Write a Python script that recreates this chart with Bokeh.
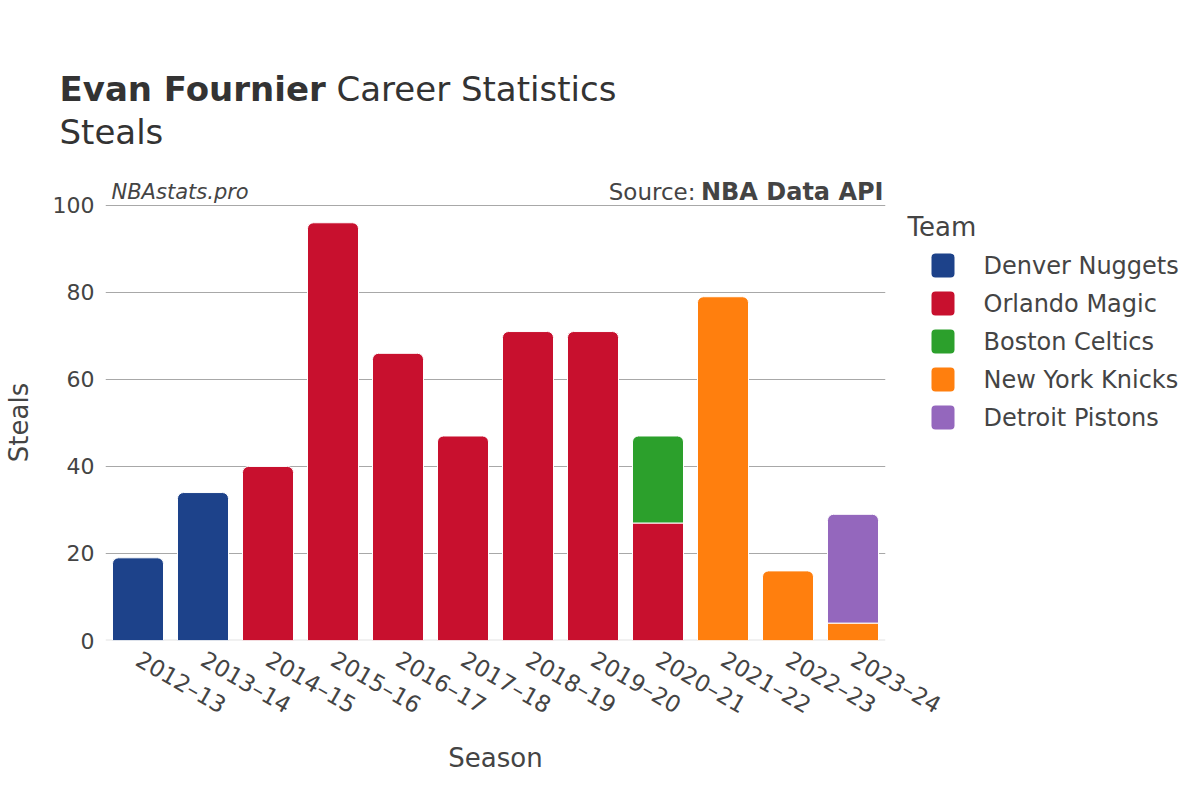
from bokeh.plotting import figure
from bokeh.layouts import row, column
from bokeh.models import FactorRange, Range1d, FixedTicker, Span, ColumnDataSource
from bokeh.core.properties import value
from bokeh.embed import file_html
from bokeh.resources import INLINE
import math

seasons = ["2012–13", "2013–14", "2014–15", "2015–16", "2016–17", "2017–18",
           "2018–19", "2019–20", "2020–21", "2021–22", "2022–23", "2023–24"]
teams = ["Denver Nuggets", "Orlando Magic", "Boston Celtics", "New York Knicks", "Detroit Pistons"]
colors = ["#1D428A", "#C8102E", "#2CA02C", "#FF7F0E", "#9467BD"]

denver_nuggets = [19, 34, 0, 0, 0, 0, 0, 0, 0, 0, 0, 0]
orlando_magic = [0, 0, 40, 96, 66, 47, 71, 71, 27, 0, 0, 0]
boston_celtics = [0, 0, 0, 0, 0, 0, 0, 0, 20, 0, 0, 0]
new_york_knicks = [0, 0, 0, 0, 0, 0, 0, 0, 0, 79, 16, 4]
detroit_pistons = [0, 0, 0, 0, 0, 0, 0, 0, 0, 0, 0, 25]
series = [denver_nuggets, orlando_magic, boston_celtics, new_york_knicks, detroit_pistons]

y_ticks = [0, 20, 40, 60, 80, 100]

FONT = "DejaVu Sans"
TXT = "#444444"
TITLE = "#333333"

TOTAL_W, TOTAL_H = 1184, 784
TOP_H = 204
TOP_PAD = 16          # main chart's top border, overlapping the title strip
FRAME_W, FRAME_H = 780, 436
LEFT_B, RIGHT_B = 100, 80
MAIN_W = LEFT_B + FRAME_W + RIGHT_B
BOTTOM_B = TOTAL_H - TOP_H - FRAME_H
LW = 284
OVERLAP = MAIN_W + LW - TOTAL_W


def blank(fig):
    fig.axis.visible = False
    fig.grid.visible = False
    fig.outline_line_color = None
    fig.background_fill_color = None
    fig.border_fill_color = None


def txt(fig, s, x, y, size, style="normal", align="left", color=TXT):
    fig.text(x=[x], y=[y], text=[s], text_font=value(FONT), text_font_size=size,
             text_font_style=style, text_align=align, text_baseline="middle",
             text_color=color)


# ---------- title strip ----------
t = figure(title=None, width=TOTAL_W, height=TOP_H, x_range=Range1d(0, TOTAL_W),
           y_range=Range1d(0, TOP_H), min_border=0, output_backend="svg", toolbar_location=None)
blank(t)
txt(t, "Evan Fournier", 59, 116, "34px", "bold", color=TITLE)
txt(t, "Career Statistics", 336, 116, "34px", color=TITLE)
txt(t, "Steals", 59, 73, "34px", color=TITLE)
txt(t, "NBAstats.pro", 111, 13, "21px", "italic")
txt(t, "NBA Data API", 883, 13, "24px", "bold", align="right")
txt(t, "Source:", 695, 13, "23px", align="right")

# ---------- main chart ----------
p = figure(title=None, x_range=FactorRange(*seasons, range_padding=0), y_range=Range1d(0, 100.2),
           width=MAIN_W, height=TOTAL_H - TOP_H + TOP_PAD, frame_width=FRAME_W, frame_height=FRAME_H,
           min_border_left=LEFT_B, min_border_top=TOP_PAD, min_border_right=RIGHT_B,
           min_border_bottom=BOTTOM_B, output_backend="svg", toolbar_location=None,
           margin=(-TOP_PAD, 0, 0, 0))
p.outline_line_color = None
p.border_fill_color = None
p.background_fill_color = "white"
p.add_layout(Span(location=0, dimension="width", line_color="#e3e3e3", line_width=2, level="underlay"))

n = len(seasons)
last_team = []
for i in range(n):
    lt = -1
    for k in range(len(teams)):
        if series[k][i] > 0:
            lt = k
    last_team.append(lt)

bottoms = [0] * n
for k, team in enumerate(teams):
    flat = dict(x=[], top=[], bottom=[])
    rnd = dict(x=[], top=[], bottom=[])
    for i in range(n):
        v = series[k][i]
        if v > 0:
            d = rnd if last_team[i] == k else flat
            d["x"].append(seasons[i])
            d["bottom"].append(bottoms[i])
            d["top"].append(bottoms[i] + v)
            bottoms[i] += v
    p.vbar(x="x", top="top", bottom="bottom", width=0.785, source=ColumnDataSource(flat),
           fill_color=colors[k], line_color="white", line_width=1)
    p.vbar(x="x", top="top", bottom="bottom", width=0.785, source=ColumnDataSource(rnd),
           fill_color=colors[k], line_color="white", line_width=1, border_radius=(6, 6, 0, 0))

p.yaxis.ticker = FixedTicker(ticks=y_ticks)
p.ygrid.ticker = FixedTicker(ticks=y_ticks[1:])
p.ygrid.grid_line_color = "#a8a8a8"
p.ygrid.grid_line_width = 1
p.xgrid.visible = False
for ax in (p.xaxis[0], p.yaxis[0]):
    ax.axis_line_color = None
    ax.major_tick_line_color = None
    ax.minor_tick_line_color = None
    ax.major_label_text_font = FONT
    ax.major_label_text_color = TXT
    ax.axis_label_text_font = FONT
    ax.axis_label_text_color = TXT
    ax.axis_label_text_font_style = "normal"
    ax.axis_label_text_font_size = "26px"
p.yaxis.major_label_text_font_size = "22px"
p.xaxis.major_label_text_font_size = "23px"
p.yaxis.major_label_standoff = 5
p.xaxis.major_label_standoff = 11
p.xaxis.major_label_orientation = -math.pi / 6
p.yaxis.axis_label = "Steals"
p.xaxis.axis_label = "Season"
p.yaxis.axis_label_standoff = 16
p.xaxis.axis_label_standoff = 10

# ---------- legend strip (overlaps the main chart's empty right border) ----------
lg = figure(title=None, width=LW, height=TOTAL_H - TOP_H + TOP_PAD, x_range=Range1d(0, LW),
            y_range=Range1d(0, FRAME_H), frame_width=LW, frame_height=FRAME_H,
            min_border_left=0, min_border_right=0, min_border_top=TOP_PAD,
            min_border_bottom=BOTTOM_B, output_backend="svg", toolbar_location=None,
            margin=(-TOP_PAD, 0, 0, -OVERLAP))
blank(lg)
txt(lg, "Team", 2, 414, "26px")
row_y = [375 - 38 * k for k in range(len(teams))]
lg.quad(left=[26] * len(teams), right=[49] * len(teams),
        top=[y + 12 for y in row_y], bottom=[y - 12 for y in row_y],
        fill_color=colors, line_color=None, border_radius=4)
lg.text(x=[78] * len(teams), y=row_y, text=teams, text_font=value(FONT),
        text_font_size="24px", text_baseline="middle", text_align="left", text_color=TXT)

layout = column(t, row(p, lg))
open("out.html", "w").write(file_html(layout, INLINE))
